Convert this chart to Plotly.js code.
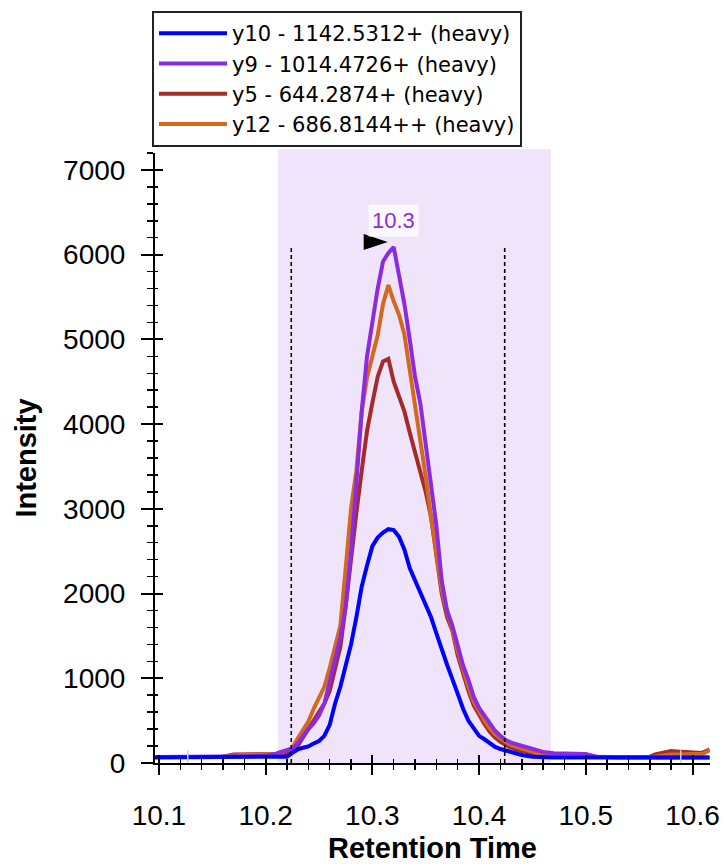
<!DOCTYPE html>
<html>
<head>
<meta charset="utf-8">
<script src="https://cdn.plot.ly/plotly-3.0.1.min.js"></script>
<style>html,body{margin:0;padding:0;background:#fff;}#chart{width:725px;height:864px;}</style>
</head>
<body>
<div id="chart"></div>
<script>
// Retention times (min)
var times = [10.096, 10.11, 10.12, 10.13, 10.14, 10.15, 10.16, 10.17, 10.18, 10.19, 10.20, 10.205,
  10.21, 10.215, 10.22, 10.225, 10.23, 10.235, 10.24, 10.245, 10.25, 10.255, 10.26, 10.265, 10.27, 10.275,
  10.28, 10.285, 10.29, 10.295, 10.30, 10.305, 10.31, 10.315, 10.32, 10.325, 10.33, 10.335, 10.34, 10.345,
  10.35, 10.355, 10.36, 10.365, 10.37, 10.375, 10.38, 10.385, 10.39, 10.395, 10.40, 10.405, 10.41, 10.415,
  10.42, 10.425, 10.43,
  10.44, 10.45, 10.46, 10.47, 10.48, 10.49, 10.50, 10.51, 10.52, 10.53, 10.54, 10.55, 10.56, 10.565,
  10.57, 10.575, 10.58, 10.585, 10.59, 10.595, 10.60, 10.605, 10.61, 10.616];

var seriesNames = ["y10 - 1142.5312+ (heavy)", "y9 - 1014.4726+ (heavy)", "y5 - 644.2874+ (heavy)", "y12 - 686.8144++ (heavy)"];

var y10 = [65, 65, 65, 65, 65, 65, 65, 65, 65, 65, 65, 65,
  65, 70, 75, 120, 160, 180, 195, 230, 260, 320, 450, 700, 900, 1150,
  1400, 1720, 2080, 2330, 2560, 2660, 2720, 2760, 2750, 2670, 2520, 2300, 2150, 2020,
  1870, 1720, 1530, 1330, 1160, 990, 810, 640, 500, 400, 320, 280, 230, 190,
  165, 145, 125,
  95, 75, 65, 65, 65, 65, 65, 65, 65, 65, 65, 65, 65, 65,
  65, 65, 65, 65, 65, 65, 65, 65, 65, 65];

var y9 = [70, 70, 70, 70, 70, 70, 75, 80, 80, 80, 85, 95,
  110, 135, 150, 165, 230, 320, 400, 470, 560, 700, 950, 1200, 1480, 1850,
  2500, 3300, 4150, 4800, 5200, 5600, 5920, 6020, 6090, 5750, 5420, 5000, 4560, 4240,
  3770, 3300, 2800, 2150, 1800, 1620, 1380, 1150, 980, 780, 650, 560, 450, 380,
  320, 270, 240,
  200, 160, 130, 115, 110, 110, 105, 75, 65, 65, 65, 65, 65, 65,
  65, 65, 65, 65, 65, 65, 65, 65, 65, 65];

var y5 = [70, 70, 70, 70, 70, 70, 75, 100, 100, 100, 100, 105,
  105, 110, 120, 140, 200, 300, 400, 490, 580, 700, 850, 1100, 1370, 1850,
  2450, 2950, 3450, 3920, 4250, 4560, 4740, 4770, 4500, 4330, 4150, 3900, 3680, 3450,
  3200, 2900, 2450, 2000, 1720, 1560, 1270, 1050, 850, 680, 560, 460, 370, 300,
  250, 210, 180,
  140, 110, 90, 80, 75, 70, 70, 70, 70, 70, 70, 70, 75, 100,
  115, 125, 140, 135, 130, 120, 120, 120, 125, 160];

var y12 = [70, 70, 70, 70, 70, 70, 75, 90, 95, 95, 95, 100,
  110, 130, 150, 180, 290, 400, 490, 640, 760, 900, 1120, 1350, 1620, 2300,
  3000, 3450, 4150, 4550, 4780, 5050, 5420, 5640, 5450, 5290, 5060, 4650, 4250, 3800,
  3380, 2900, 2450, 2050, 1780, 1580, 1320, 1100, 900, 720, 600, 500, 410, 340,
  290, 245, 210,
  170, 130, 100, 85, 80, 75, 70, 70, 70, 70, 70, 70, 70, 75,
  85, 95, 100, 100, 100, 100, 100, 100, 110, 150];

var integrationBounds = [10.224, 10.424];
var highlightRange = [10.2115, 10.4674];
var idTimes = [10.127, 10.589];

var xTickVals = [10.1, 10.2, 10.3, 10.4, 10.5, 10.6];
var yTickVals = [0, 1000, 2000, 3000, 4000, 5000, 6000, 7000];

var colors = ["#0000FF", "#8A2BE2", "#A52A2A", "#D2691E"];
var FONT = "Liberation Sans, Arial, Helvetica, sans-serif";
var LEGEND_FONT = "DejaVu Sans, Verdana, sans-serif";

function line(name, y, color, rank) {
  return {type: "scatter", mode: "lines", name: name, x: times, y: y,
    line: {color: color, width: 4}, legendrank: rank, hoverinfo: "skip"};
}
var traces = [
  line(seriesNames[2], y5, colors[2], 3),
  line(seriesNames[3], y12, colors[3], 4),
  line(seriesNames[1], y9, colors[1], 2),
  line(seriesNames[0], y10, colors[0], 1),
  {type: "scatter", x: [null], y: [null], xaxis: "x2", yaxis: "y2", showlegend: false, hoverinfo: "skip"}
];

// peak of the most intense series
var peakIdx = 0;
for (var i = 0; i < y9.length; i++) if (y9[i] > y9[peakIdx]) peakIdx = i;
var peakT = times[peakIdx], peakI = y9[peakIdx];

var xRange = [10.0963, 10.6164];
var yRange = [0, 7200];

var shapes = [
  {type: "rect", xref: "x", yref: "paper", x0: highlightRange[0], x1: highlightRange[1], y0: 0, y1: 1.006,
   fillcolor: "#F0E4FA", line: {width: 0}, layer: "below"}
];
integrationBounds.forEach(function (b) {
  shapes.push({type: "line", xref: "x", yref: "y", x0: b, x1: b, y0: 0, y1: peakI,
    line: {color: "black", width: 1.6, dash: "4px,3px"}});
});
idTimes.forEach(function (t) {
  shapes.push({type: "line", xref: "x", yref: "y", x0: t, x1: t, y0: 0, y1: 150,
    line: {color: "#d0d0d0", width: 1.5}});
});
shapes.push({type: "path", xref: "x", yref: "y", xsizemode: "pixel", ysizemode: "pixel",
  xanchor: peakT, yanchor: peakI, path: "M-30,13 L-6,5 L-30,-3 Z",
  fillcolor: "black", line: {width: 0}});

var layout = {
  width: 725, height: 864,
  margin: {l: 155, r: 15, t: 152, b: 101},
  paper_bgcolor: "white", plot_bgcolor: "white",
  font: {family: FONT, color: "black", size: 28},
  showlegend: true,
  legend: {x: -0.0054, y: 1.2308, xanchor: "left", yanchor: "top",
    bgcolor: "white", bordercolor: "#222", borderwidth: 2,
    font: {family: LEGEND_FONT, size: 21, color: "black"}, itemwidth: 68, tracegroupgap: 0,
    traceorder: "normal"},
  xaxis: {range: xRange, tickvals: xTickVals, ticktext: xTickVals.map(function (v) { return v.toFixed(1); }),
    ticks: "outside", ticklen: 10, tickwidth: 2, tickcolor: "black",
    minor: {dtick: 0.02, tick0: 10.0, ticks: "outside", ticklen: 5, tickwidth: 1.5, tickcolor: "black"},
    showline: true, linecolor: "black", linewidth: 2, showgrid: false, zeroline: false,
    ticklabelstandoff: 16, tickfont: {size: 28},
    title: {text: "<b>Retention Time</b>", font: {size: 29}, standoff: 8}},
  yaxis: {range: yRange, tickvals: yTickVals,
    ticks: "outside", ticklen: 12, tickwidth: 2, tickcolor: "black",
    minor: {dtick: 200, tick0: 0, ticks: "outside", ticklen: 6, tickwidth: 1.5, tickcolor: "black"},
    showline: true, linecolor: "black", linewidth: 2, showgrid: false, zeroline: false,
    ticklabelstandoff: 10, tickfont: {size: 28},
    title: {text: "<b>Intensity</b>", font: {size: 29}, standoff: 18}},
  xaxis2: {overlaying: "x", range: xRange, tickvals: xTickVals, showticklabels: false,
    ticks: "inside", ticklen: 8, tickwidth: 2, tickcolor: "black",
    minor: {dtick: 0.02, tick0: 10.0, ticks: "inside", ticklen: 4, tickwidth: 1.5, tickcolor: "black"},
    showline: false, showgrid: false, zeroline: false},
  yaxis2: {overlaying: "y", side: "left", range: yRange, tickvals: yTickVals, showticklabels: false,
    ticks: "inside", ticklen: 8, tickwidth: 2, tickcolor: "black",
    minor: {dtick: 200, tick0: 0, ticks: "inside", ticklen: 3, tickwidth: 1.5, tickcolor: "black"},
    showline: false, showgrid: false, zeroline: false},
  shapes: shapes,
  annotations: [{x: peakT, y: peakI, xref: "x", yref: "y", text: peakT.toFixed(1), showarrow: false,
    yanchor: "bottom", yshift: 10, bgcolor: "rgba(252,249,255,0.9)", borderpad: 3,
    font: {family: FONT, size: 22, color: "#8A2BE2"}}]
};

Plotly.newPlot("chart", traces, layout, {displayModeBar: false, staticPlot: true});
</script>
</body>
</html>
